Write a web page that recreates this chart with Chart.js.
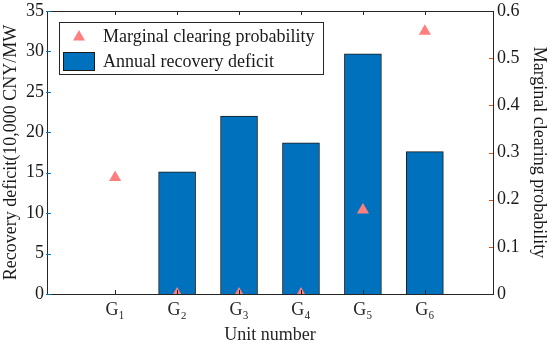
<!DOCTYPE html>
<html>
<head>
<meta charset="utf-8">
<script src="https://cdn.jsdelivr.net/npm/chart.js@4.4.1/dist/chart.umd.min.js"></script>
<style>
html,body{margin:0;padding:0;background:#fff;}
#wrap{width:550px;height:346px;}
</style>
</head>
<body>
<div id="wrap"><canvas id="c" width="550" height="346"></canvas></div>
<script>
// ---- data ----
const categories = ['G\u2081','G\u2082','G\u2083','G\u2084','G\u2085','G\u2086'];
const unitPositions = [1,2,3,4,5,6];
const deficitValues = [0, 15.1, 22.0, 18.7, 29.7, 17.6];
const probabilityValues = [0.247, 0, 0, 0, 0.178, 0.557];
const leftTicks = [0,5,10,15,20,25,30,35];
const rightTicks = [0,0.1,0.2,0.3,0.4,0.5,0.6];
const seriesNames = ['Marginal clearing probability','Annual recovery deficit'];

const FONT = "'Liberation Serif','DejaVu Serif',serif";
const FS = 18;
const BLUE = '#0072BD';
const ORANGE = '#D95319';
const PINK = '#FF7F7F';
const AXIS = '#262626';

function noPad(s) { s.paddingTop = 0; s.paddingBottom = 0; }

const framePlugin = {
  id: 'frame',
  afterDatasetsDraw(chart) {
    const {ctx, chartArea: a, scales} = chart;
    ctx.save();
    ctx.lineWidth = 1;
    const tl = 4;
    ctx.strokeStyle = ORANGE;
    rightTicks.forEach(v => {
      const y = Math.round(scales.y2.getPixelForValue(v)) + 0.5;
      ctx.beginPath(); ctx.moveTo(a.right, y); ctx.lineTo(a.right - tl, y); ctx.stroke();
    });
    ctx.strokeStyle = AXIS;
    unitPositions.forEach(v => {
      const x = Math.round(scales.x.getPixelForValue(v)) + 0.5;
      ctx.beginPath(); ctx.moveTo(x, a.bottom); ctx.lineTo(x, a.bottom - tl); ctx.stroke();
      ctx.beginPath(); ctx.moveTo(x, a.top); ctx.lineTo(x, a.top + tl); ctx.stroke();
    });
    ctx.strokeStyle = AXIS;
    ctx.strokeRect(Math.round(a.left) + 0.5, Math.round(a.top) + 0.5, Math.round(a.right - a.left), Math.round(a.bottom - a.top));
    ctx.strokeStyle = BLUE;
    leftTicks.forEach(v => {
      const y = Math.round(scales.y.getPixelForValue(v)) + 0.5;
      ctx.beginPath(); ctx.moveTo(a.left - 1, y); ctx.lineTo(a.left + tl, y); ctx.stroke();
    });
    // legend
    const lx = 59, ly = 22, lw = 264, lh = 52;
    ctx.fillStyle = '#fff';
    ctx.fillRect(lx, ly, lw, lh);
    ctx.strokeStyle = AXIS;
    ctx.strokeRect(lx + 0.5, ly + 0.5, lw, lh);
    ctx.fillStyle = PINK;
    const tx = 79, ty = 36, r = 6;
    ctx.beginPath();
    ctx.moveTo(tx, ty - r);
    ctx.lineTo(tx + r, ty + r * 0.75);
    ctx.lineTo(tx - r, ty + r * 0.75);
    ctx.closePath(); ctx.fill();
    ctx.fillStyle = BLUE;
    ctx.fillRect(63, 52, 31, 18);
    ctx.strokeStyle = '#1a1a1a';
    ctx.strokeRect(63.5, 52.5, 31, 18);
    ctx.fillStyle = '#1a1a1a';
    ctx.font = FS + 'px ' + FONT;
    ctx.textBaseline = 'middle';
    ctx.textAlign = 'left';
    ctx.fillText(seriesNames[0], 103, 37);
    ctx.fillText(seriesNames[1], 103, 62);
    ctx.restore();
  }
};

new Chart(document.getElementById('c'), {
  data: {
    datasets: [
      {
        type: 'scatter',
        label: seriesNames[0],
        data: unitPositions.map((x, i) => ({x, y: probabilityValues[i]})),
        yAxisID: 'y2',
        pointStyle: 'triangle',
        radius: 7,
        backgroundColor: PINK,
        borderColor: PINK,
        borderWidth: 0,
        clip: 0,
        order: 0
      },
      {
        type: 'bar',
        label: seriesNames[1],
        data: unitPositions.map((x, i) => ({x, y: deficitValues[i]})),
        yAxisID: 'y',
        backgroundColor: BLUE,
        borderColor: '#1a1a1a',
        borderWidth: 1,
        barThickness: 37,
        order: 1
      }
    ]
  },
  options: {
    responsive: false,
    animation: false,
    devicePixelRatio: 1,
    layout: {padding: {top: 11, left: 0, right: 0, bottom: 0}},
    plugins: {legend: {display: false}, tooltip: {enabled: false}},
    scales: {
      x: {
        type: 'linear',
        offset: false,
        min: -0.1, max: 7.1,
        afterBuildTicks(s) { s.ticks = unitPositions.map(v => ({value: v})); },
        afterFit(s) { s.height = 52; s.paddingLeft = 0; s.paddingRight = 0; },
        grid: {display: false, drawTicks: false, offset: false},
        border: {display: false},
        ticks: {
          padding: 5,
          color: '#262626',
          font: {family: FONT, size: FS},
          maxRotation: 0,
          callback(v) { const i = unitPositions.indexOf(v); return i >= 0 ? categories[i] : ''; }
        },
        title: {display: true, text: 'Unit number', color: '#262626', font: {family: FONT, size: FS}, padding: {top: 2, bottom: 0}}
      },
      y: {
        position: 'left',
        min: 0, max: 35,
        afterBuildTicks(s) { s.ticks = leftTicks.map(v => ({value: v})); },
        afterFit(s) { s.width = 47; noPad(s); },
        grid: {display: false, drawTicks: false},
        border: {display: false},
        ticks: {padding: 3, color: '#1a1a1a', font: {family: FONT, size: FS}},
        title: {display: true, text: 'Recovery deficit(10,000 CNY/MW', color: '#1a1a1a', font: {family: FONT, size: FS}, padding: {top: 0, bottom: 0}}
      },
      y2: {
        position: 'right',
        min: 0, max: 0.6,
        afterBuildTicks(s) { s.ticks = rightTicks.map(v => ({value: v})); },
        afterFit(s) { s.width = 57; noPad(s); },
        grid: {display: false, drawTicks: false},
        border: {display: false},
        ticks: {padding: 4, color: '#1a1a1a', font: {family: FONT, size: FS}, callback(v) { return String(v); }},
        title: {display: true, text: 'Marginal clearing probability', color: '#1a1a1a', font: {family: FONT, size: FS}, padding: {top: 0, bottom: 4}}
      }
    }
  },
  plugins: [framePlugin]
});
</script>
</body>
</html>
